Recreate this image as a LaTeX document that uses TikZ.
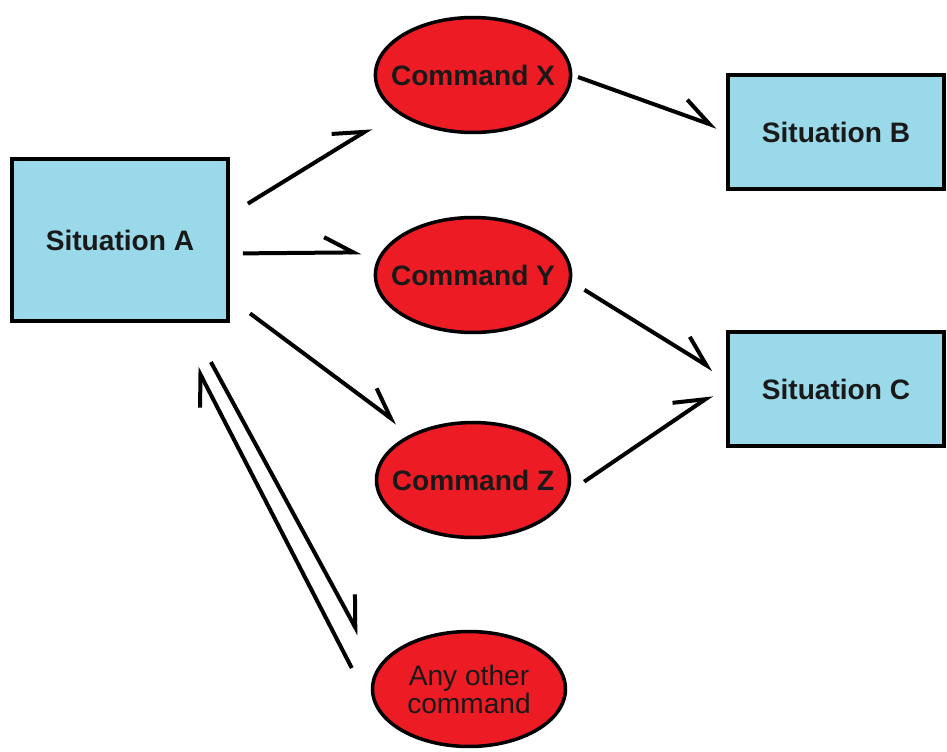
\documentclass[tikz,border=0pt]{standalone}
\usepackage{fontspec}
\setmainfont{Liberation Sans}
\usetikzlibrary{shapes, arrows.meta, calc, positioning}
\definecolor{sitblue}{RGB}{153, 217, 234}
\definecolor{cmdred}{RGB}{237, 28, 36}

\begin{document}
\begin{tikzpicture}[x=0.02cm, y=-0.02cm]
        \useasboundingbox (0, 0) rectangle (947, 751);

        \tikzstyle{sit} = [draw, fill=sitblue, line width=0.08cm, minimum width=4.32cm, text=black!90, font=\fontsize{16}{19}\selectfont\bfseries];
        \tikzstyle{cmd} = [draw, ellipse, fill=cmdred, line width=0.07cm, minimum width=3.86cm, minimum height=2.3cm, inner xsep=-0.26cm, inner ysep=0pt, text=black!90, font=\fontsize{16}{19}\selectfont\bfseries];
        \tikzstyle{arr} = [line width=0.08cm, -{Straight Barb[harpoon, angle=56:0.66cm]}];

        % situations
        \node [sit, minimum height=3.24cm] (A) at (120, 240) {Situation A};
        \node [sit, minimum height=2.28cm] (B) at (836, 132) {Situation B};
        \node [sit, minimum height=2.28cm] (C) at (836, 389) {Situation C};

        % commands
        \foreach \n/\y in {X/75, Y/275, Z/480}{
            \node [cmd] (C\n) at (473, \y) {Command \n};
        }
        \node [cmd, align=center, font=\fontsize{16}{14.2}\selectfont] (CO) at (469, 689) {Any other\\command};

        \coordinate (up) at ($(CO.west) + (-19, -21)$);

        \draw [arr, shorten <=0.42cm, shorten >=0.58cm] (A.13) -- (CX.206);
        \draw [arr, shorten <=0.26cm, shorten >=0.4cm] (A.-7) -- (CY.166);
        \draw [arr, shorten <=0.5cm, shorten >=0.36cm] (A.-28) -- (CZ.143);

        \draw [arr, shorten <=0.12cm, shorten >=0.19cm] (CX.east) -- (B.179);
        \draw [arr, shorten <=0.3cm, shorten >=0.3cm] (CY.-4) -- (C.174);
        \draw [arr, shorten <=0.36cm, shorten >=0.34cm] (CZ.-7) -- (C.178);

        \draw [arr, shorten >=1cm] (up) -- (A.-57);
        \draw [arr, shorten <=0.89cm, shorten >=0.76cm] (A.-50) -- (CO.167);
    \end{tikzpicture}
\end{document}
